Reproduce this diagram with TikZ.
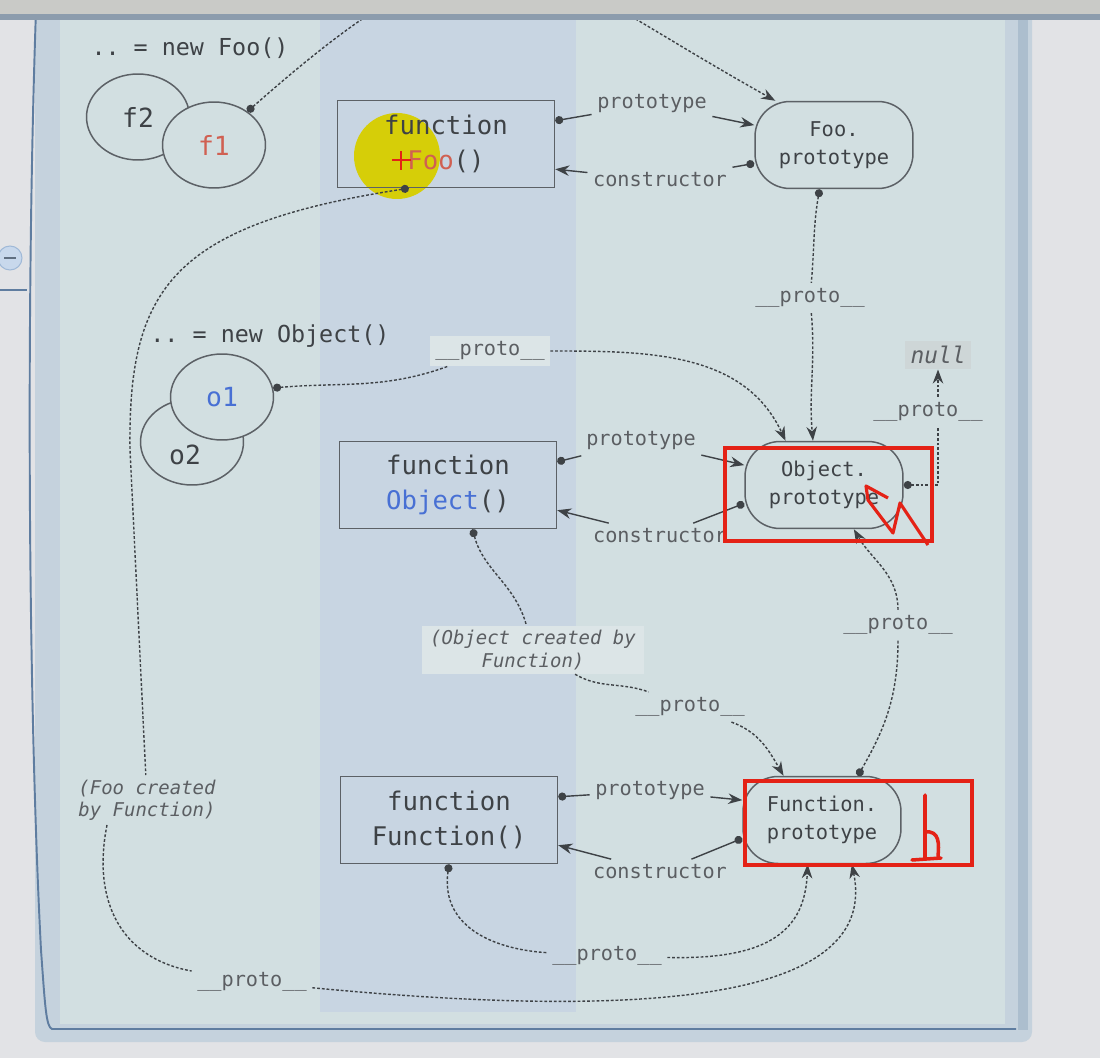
\documentclass[tikz,border=0pt]{standalone}
\usepackage{fontspec}
\setmonofont{DejaVu Sans Mono}
\usetikzlibrary{arrows.meta, positioning, shapes.geometric}
\definecolor{pagebg}{RGB}{226,227,230}
\definecolor{topbar}{RGB}{201,202,199}
\definecolor{topline}{RGB}{140,156,173}
\definecolor{framebg}{RGB}{197,210,221}
\definecolor{framedark}{RGB}{172,190,206}
\definecolor{panelbg}{RGB}{210,223,225}
\definecolor{bandbg}{RGB}{200,213,226}
\definecolor{edgeline}{RGB}{95,125,160}
\definecolor{ink}{RGB}{62,66,70}
\definecolor{boxline}{RGB}{92,97,102}
\definecolor{fooRed}{RGB}{208,96,82}
\definecolor{objBlue}{RGB}{72,112,212}
\definecolor{tagbg}{RGB}{220,229,231}
\definecolor{markRed}{RGB}{228,34,22}
\definecolor{hiYellow}{RGB}{214,206,8}
\definecolor{btnfill}{RGB}{200,216,236}
\definecolor{btnline}{RGB}{160,185,215}

\begin{document}
\begin{tikzpicture}[x=0.02cm, y=-0.02cm, every node/.style={font=\ttfamily}]
    \tikzset{fnbox/.style={rectangle, draw=boxline, line width=0.85pt,
                          minimum width=4.34cm, minimum height=1.74cm, align=center,
                          text=ink, font=\ttfamily\fontsize{14.6}{19.8}\selectfont},
             protobox/.style={rectangle, rounded corners=0.7cm, draw=boxline, line width=0.85pt,
                          minimum width=3.16cm, minimum height=1.74cm, align=center,
                          text=ink, font=\ttfamily\fontsize{11.6}{15.9}\selectfont},
             inst/.style={ellipse, draw=boxline, line width=0.85pt, fill=panelbg,
                          minimum width=2.06cm, minimum height=1.72cm, inner sep=0pt,
                          text=ink, font=\ttfamily\fontsize{15}{18}\selectfont},
             tag/.style={text=ink!85, inner sep=3pt, font=\ttfamily\fontsize{11.5}{13}\selectfont},
             note/.style={text=ink!85, inner sep=2.5pt, font=\ttfamily\itshape\fontsize{10.8}{12.6}\selectfont},
             heading/.style={text=ink, font=\ttfamily\fontsize{13.3}{16}\selectfont},
             rel/.style={draw=ink, line width=0.8pt},
             proto/.style={draw=ink, line width=0.8pt, dash pattern=on 1.6pt off 1.1pt},
             dotstart/.style={{Circle[length=4.6pt]}-},
             arrowend/.style={-{Stealth[length=8pt, width=6pt]}},
             dotarrow/.style={{Circle[length=4.6pt]}-{Stealth[length=8pt, width=6pt]}},
             redpen/.style={draw=markRed, line width=2.3pt}}
    \useasboundingbox (0,0) rectangle (1100,1058);
    % window
    \fill[pagebg] (0,0) rectangle (1100,1058);
    \fill[framebg, rounded corners=0.2cm] (35,10) rectangle (1032,1042);
    \fill[framedark] (1018,10) rectangle (1028,1030);
    \fill[panelbg] (60,10) rectangle (1005,1024);
    \fill[bandbg] (320,10) rectangle (576,1012);
    \draw[edgeline, line width=1.1pt] (36,10) .. controls (26,300) and (28,700) .. (41,950)
      .. controls (45,1005) and (46,1027) .. (52,1029) -- (1016,1029);
    \filldraw[fill=btnfill, draw=btnline, line width=0.6pt] (10,258) circle[radius=0.24cm];
    \draw[btnline!60!black, line width=0.8pt] (4,258) -- (16,258);
    \draw[edgeline, line width=1.1pt] (0,290) -- (27,290);
    % pen highlight
    \fill[hiYellow] (397,156) circle[radius=0.86cm];

    \node[heading] (newFoo) at (190,48) {.. = new Foo()};
    \node[inst] (f2) at (138,117) {f2};
    \node[inst, text=fooRed] (f1) at (214,145) {f1};
    \node[fnbox] (fooFn) at (446,144) {function\\\textcolor{fooRed}{Foo}()};
    \node[protobox] (fooProto) at (834,145) {Foo.\\prototype};

    \node[heading] (newObj) at (270,336) {.. = new Object()};
    \node[inst] (o2) at (192,442) {\raisebox{-0.45cm}[0pt][0pt]{\hspace*{-0.28cm}o2}};
    \node[inst, text=objBlue] (o1) at (222,397) {o1};
    \node[fnbox] (objFn) at (448,485) {function\\\textcolor{objBlue}{Object}()};
    \node[protobox] (objProto) at (824,485) {Object.\\prototype};

    \node[fnbox] (funFn) at (449,820) {function\\Function()};
    \node[protobox] (funProto) at (822,820) {Function.\\prototype};

    \node[tag] (fooPt) at (652,104) {prototype};
    \node[tag] (fooCt) at (660,180) {constructor};
    \node[tag] (fooUp) at (810,298) {\_\_proto\_\_};
    \node[tag, fill=tagbg] (o1Up) at (490,351) {\_\_proto\_\_};
    \node[tag] (objPt) at (641,441) {prototype};
    \node[tag] (objCt) at (660,536) {constructor};
    \node[tag] (objUp) at (928,412) {\_\_proto\_\_};
    \node[tag, fill=tagbg!85!gray, font=\ttfamily\itshape\fontsize{13}{15}\selectfont] (nullL) at (938,355) {null};
    \node[note, fill=tagbg, align=center, minimum width=4.46cm] (objBy) at (533,650) {(Object created by\\Function)};
    \node[tag] (objFnUp) at (690,707) {\_\_proto\_\_};
    \node[tag] (funUp) at (898,625) {\_\_proto\_\_};
    \node[tag] (funPt) at (650,791) {prototype};
    \node[tag] (funCt) at (660,872) {constructor};
    \node[tag] (funFnUp) at (607,956) {\_\_proto\_\_};
    \node[note, align=left] (fooBy) at (147,800) {(Foo created\\by Function)};
    \node[tag] (fooFnUp) at (252,982) {\_\_proto\_\_};

    \foreach \fn/\pr/\pt/\ct in {fooFn/fooProto/fooPt/fooCt, objFn/objProto/objPt/objCt,
                                 funFn/funProto/funPt/funCt} {
      \draw[rel, dotstart] (\fn.12) -- (\pt);
      \draw[rel, arrowend] (\pt) -- (\pr.166);
      \draw[rel, dotstart] (\pr.193) -- (\ct);
      \draw[rel, arrowend] (\ct) -- (\fn.-13);
    }

    \coordinate (offTop) at (510,-40);
    \draw[proto, dotarrow] (f1.45) .. controls (340,30) and (430,-40) .. (offTop)
      .. controls (550,-40) and (640,25) .. (fooProto.143);
    \draw[proto, dotstart] (fooProto.252) to[out=-100, in=85] (fooUp);
    \draw[proto, arrowend] (fooUp) to[out=-85, in=95] (objProto.104);
    \draw[proto, dotstart] (o1.10) to[out=5, in=200] (o1Up);
    \draw[proto, arrowend] (o1Up) to[out=0, in=115] (objProto.131);
    \draw[proto, dotstart] (objProto.east) -| (nullL.south |- objUp.south);
    \draw[proto, arrowend] (nullL.south |- objUp.north) -- (nullL.south);
    \draw[proto, dotstart] (objFn.-61) to[out=-75, in=105] (objBy);
    \draw[proto] (objBy) to[out=-30, in=160] (objFnUp);
    \draw[proto, arrowend] (objFnUp) to[out=-20, in=120] (funProto.131);
    \draw[proto, dotstart] (funProto.51) to[out=60, in=-90] (funUp);
    \draw[proto, arrowend] (funUp) to[out=90, in=-60] (objProto.-56);
    \draw[proto, dotstart] (funFn.south) .. controls (440,930) and (500,950) .. (funFnUp);
    \draw[proto, arrowend] (funFnUp) .. controls (770,960) and (805,930) .. (funProto.252);
    \draw[proto, dotstart] (fooFn.-130) .. controls (170,225) and (128,290) .. (130,450) -- (fooBy);
    \draw[proto] ([xshift=-0.8cm]fooBy.south) .. controls (92,900) and (120,958) .. (fooFnUp);
    \draw[proto, arrowend] (fooFnUp) .. controls (650,1020) and (880,1000) .. (funProto.-56);

    % pen marks
    \draw[markRed, line width=1.7pt] (392,160) -- (411,160) (401,151) -- (401,170);
    \draw[redpen] (725,448) rectangle (932,541);
    \draw[redpen] (745,781) rectangle (972,865);
    \draw[markRed, line width=1.8pt, line join=round] (888,498) -- (866,486) -- (868,500)
      -- (893,533) -- (900,503) -- (928,545);
    \draw[markRed, line width=2pt, line cap=round] (925,795) -- (925,858)
      (925,832) .. controls (940,830) and (939,845) .. (938,856) (912,860) -- (941,858);

    \fill[topbar] (0,0) rectangle (1100,14);
    \fill[topline] (0,14) rectangle (1100,20);
\end{tikzpicture}
\end{document}
